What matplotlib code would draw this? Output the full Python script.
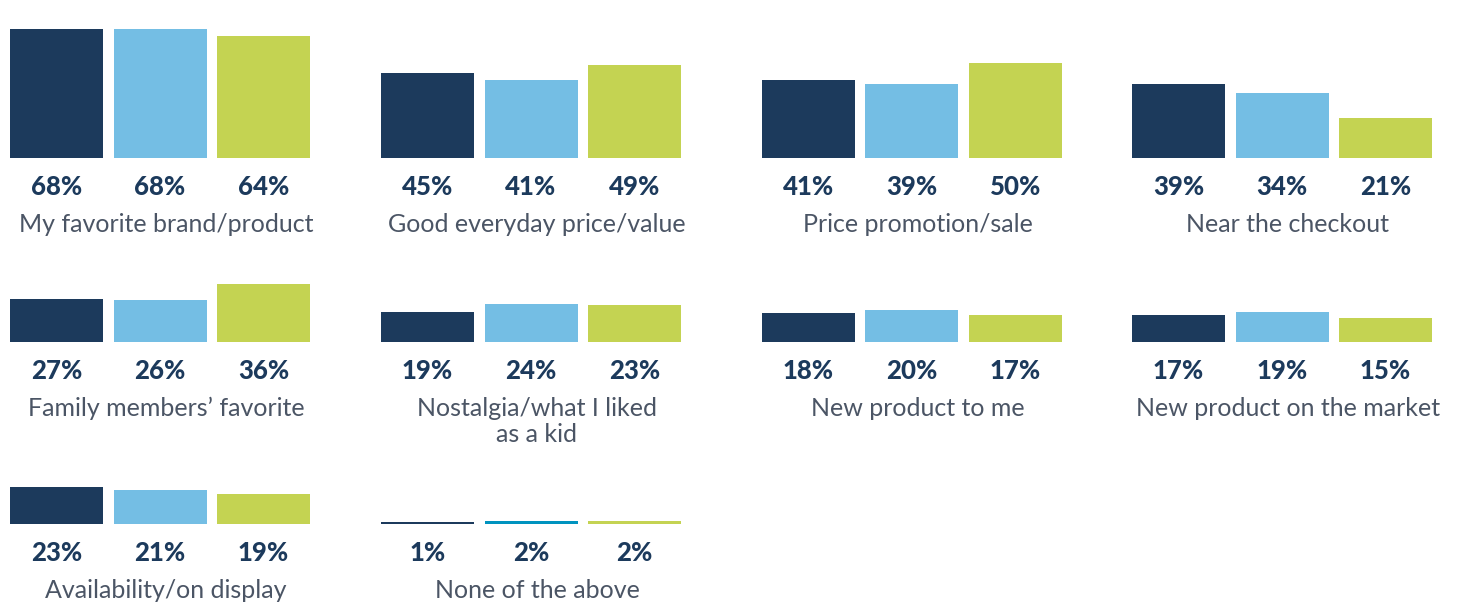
import matplotlib
matplotlib.use("Agg")
import matplotlib.pyplot as plt

plt.rcParams['font.family'] = ['Lato', 'DejaVu Sans']

categories = [
    'My favorite brand/product', 'Good everyday price/value',
    'Price promotion/sale', 'Near the checkout',
    'Family members\u2019 favorite', 'Nostalgia/what I liked\nas a kid',
    'New product to me', 'New product on the market',
    'Availability/on display', 'None of the above',
]
series_a = [68, 45, 41, 39, 27, 19, 18, 17, 23, 1]
series_b = [68, 41, 39, 34, 26, 24, 20, 19, 21, 2]
series_c = [64, 49, 50, 21, 36, 23, 17, 15, 19, 2]

NAVY = '#1c3a5c'
LIGHT = '#74bee4'
LIME = '#c4d352'
TEAL = '#0093bf'
GREY = '#4b5565'

W, H = 1460, 604
fig = plt.figure(figsize=(W / 100, H / 100), dpi=100)

col_left = [10, 381, 762, 1132]       # left edge of first bar, px
row_base = [158, 342, 524]            # baseline, px from top
row_scale = [1.9, 1.6, 1.6]           # px per percent
row_ymax = [80, 40, 40]
step = 103.5

for k, cat in enumerate(categories):
    r, c = divmod(k, 4)
    left = col_left[c] - (step - 93) / 2
    bottom = H - row_base[r]
    height = row_ymax[r] * row_scale[r]
    ax = fig.add_axes([left / W, bottom / H, 3 * step / W, height / H])
    vals = [series_a[k], series_b[k], series_c[k]]
    colors = [NAVY, LIGHT, LIME]
    if cat == 'None of the above':
        colors = [NAVY, TEAL, LIME]
    ax.bar(range(3), vals, width=93 / step, color=colors)
    ax.set_xlim(-0.5, 2.5)
    ax.set_ylim(0, row_ymax[r])
    ax.axis('off')
    for i, v in enumerate(vals):
        ax.annotate(f'{v}%', xy=(i, 0), xytext=(0, -29), textcoords='offset pixels',
                    ha='center', va='center', fontsize=18.5, fontweight='black',
                    color=NAVY, annotation_clip=False)
    ax.annotate(cat, xy=(1, 0), xytext=(6, -55), textcoords='offset pixels',
                ha='center', va='top', fontsize=18, color=GREY,
                linespacing=1.15, annotation_clip=False)

fig.savefig('out.png', dpi=100)
